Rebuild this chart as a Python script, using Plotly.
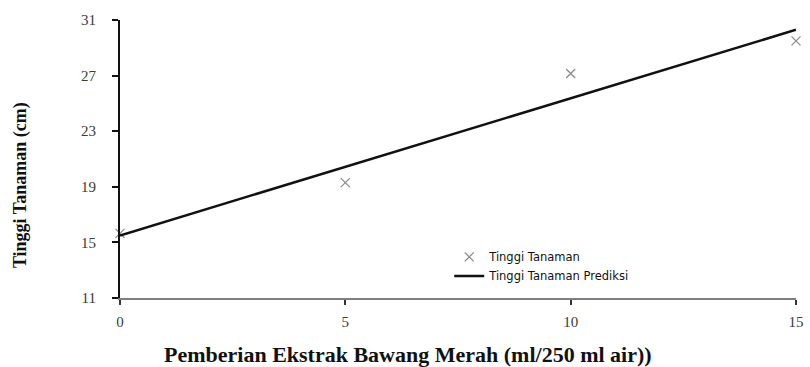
import plotly.graph_objects as go

# Observed plant height per extract dose
dose = [0, 5, 10, 15]
tinggi = [15.65, 19.3, 27.15, 29.5]

# Fitted regression line end points
dose_pred = [0, 15]
tinggi_pred = [15.5, 30.3]

y_ticks = [11, 15, 19, 23, 27, 31]
x_ticks = [0, 5, 10, 15]

fig = go.Figure()
fig.add_trace(go.Scatter(
    x=dose, y=tinggi, mode="markers", name="Tinggi Tanaman",
    marker=dict(symbol="x-thin-open", size=9, color="#8c8c8c",
                line=dict(width=1.3, color="#8c8c8c")),
    cliponaxis=False,
))
fig.add_trace(go.Scatter(
    x=dose_pred, y=tinggi_pred, mode="lines", name="Tinggi Tanaman Prediksi",
    line=dict(color="#111111", width=2.5),
    cliponaxis=False,
))

serif = "Liberation Serif"
tick_font = dict(family=serif, size=15, color="#3a3a3a")

fig.update_layout(
    width=810, height=367,
    margin=dict(l=120, r=14, t=20, b=69, autoexpand=False),
    paper_bgcolor="white", plot_bgcolor="white",
    showlegend=True,
    legend=dict(x=0.487, y=0.2, xanchor="left", yanchor="top",
                bgcolor="rgba(0,0,0,0)", tracegroupgap=0,
                font=dict(family="DejaVu Sans", size=11.5, color="#111111"),
                itemwidth=30),
    xaxis=dict(
        range=[0, 15], tickvals=x_ticks, ticks="outside", ticklen=5,
        tickcolor="#333333", tickwidth=2,
        showline=True, linecolor="#7f7f7f", linewidth=2,
        showgrid=False, zeroline=False, ticklabelstandoff=4,
        tickfont=tick_font, automargin=False,
    ),
    yaxis=dict(
        range=[11, 31], tickvals=y_ticks, ticks="outside", ticklen=6,
        tickcolor="#111111", tickwidth=2,
        showline=True, linecolor="#111111", linewidth=2,
        showgrid=False, zeroline=False, ticklabelstandoff=13,
        tickfont=tick_font, automargin=False,
    ),
    annotations=[
        dict(text="<b>Pemberian Ekstrak Bawang Merah (ml/250 ml air))</b>",
             xref="paper", yref="paper", x=0.426, y=-0.205,
             xanchor="center", yanchor="middle", showarrow=False,
             font=dict(family=serif, size=22, color="#111111")),
        dict(text="<b>Tinggi Tanaman (cm)</b>",
             xref="paper", yref="paper", x=-0.148, y=0.406,
             xanchor="center", yanchor="middle", showarrow=False,
             textangle=-90,
             font=dict(family=serif, size=18, color="#111111")),
    ],
)

fig.write_html("out.html")
